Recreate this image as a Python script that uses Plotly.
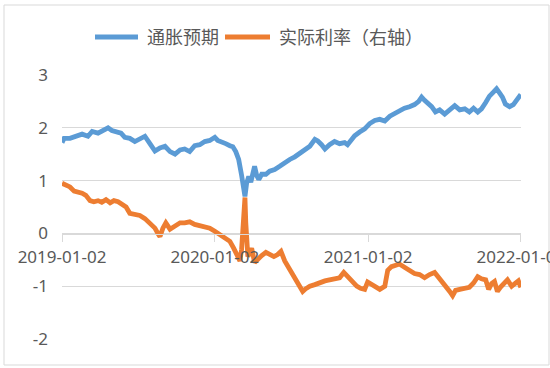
import pandas as pd
import plotly.graph_objects as go

START = "2019-01-02"

# day offsets from 2019-01-02 and values
blue_days = [0, 5, 19, 33, 48, 62, 72, 86, 100, 110, 119, 131, 141, 150, 162, 174, 186, 198, 210, 222,
             234, 246, 258, 270, 282, 293, 305, 317, 329, 341, 353, 365, 372, 382, 391, 401, 408, 415, 422, 429,
             434, 437, 441, 446, 451, 456, 460, 465, 470, 477, 487, 496, 508, 520, 532, 544, 556, 568, 580, 592,
             604, 611, 620, 628, 639, 651, 663, 675, 682, 692, 699, 711, 723, 735, 747, 759, 771, 783, 795, 806,
             818, 830, 842, 852, 859, 866, 873, 883, 892, 902, 914, 926, 938, 950, 962, 973, 983, 993, 1002, 1012,
             1021, 1031, 1038, 1045, 1052, 1059, 1069, 1078, 1088, 1096]
blue_vals = [1.72, 1.80, 1.80, 1.85, 1.88, 1.84, 1.93, 1.90, 1.95, 2.00, 1.95, 1.93, 1.90, 1.82, 1.80, 1.74, 1.78, 1.84, 1.70, 1.56,
             1.62, 1.65, 1.55, 1.50, 1.58, 1.60, 1.55, 1.66, 1.68, 1.74, 1.76, 1.82, 1.76, 1.74, 1.70, 1.66, 1.64, 1.55, 1.40, 1.10,
             0.85, 0.70, 0.95, 1.08, 0.97, 1.15, 1.27, 1.10, 1.02, 1.12, 1.12, 1.18, 1.21, 1.27, 1.34, 1.40, 1.45, 1.52, 1.59, 1.65,
             1.78, 1.75, 1.68, 1.60, 1.68, 1.74, 1.70, 1.72, 1.68, 1.80, 1.85, 1.92, 1.98, 2.08, 2.14, 2.16, 2.13, 2.22, 2.28, 2.32,
             2.37, 2.40, 2.44, 2.50, 2.58, 2.52, 2.48, 2.40, 2.30, 2.34, 2.26, 2.35, 2.42, 2.34, 2.36, 2.30, 2.37, 2.30, 2.36, 2.48,
             2.60, 2.68, 2.74, 2.66, 2.58, 2.45, 2.40, 2.44, 2.55, 2.63]

orange_days = [0, 10, 19, 29, 38, 48, 57, 67, 76, 86, 95, 105, 115, 124, 134, 143, 153, 162, 174, 186,
               198, 210, 222, 229, 234, 241, 248, 258, 270, 282, 293, 305, 317, 329, 341, 353, 365, 377, 389, 401,
               410, 418, 425, 429, 434, 437, 439, 444, 449, 453, 460, 468, 477, 487, 496, 506, 515, 523, 532, 544,
               556, 568, 575, 582, 592, 604, 616, 628, 639, 651, 663, 673, 682, 692, 704, 713, 723, 730, 740, 749,
               759, 771, 778, 787, 797, 806, 818, 830, 842, 854, 866, 878, 890, 902, 914, 926, 933, 940, 950, 962,
               973, 983, 993, 1002, 1012, 1019, 1026, 1033, 1040, 1047, 1057, 1064, 1074, 1083, 1090, 1096]
orange_vals = [0.95, 0.92, 0.88, 0.80, 0.79, 0.76, 0.72, 0.62, 0.60, 0.62, 0.59, 0.64, 0.58, 0.62, 0.60, 0.56, 0.50, 0.38, 0.36, 0.34,
               0.28, 0.20, 0.10, 0.00, -0.06, 0.10, 0.20, 0.08, 0.14, 0.20, 0.20, 0.22, 0.17, 0.15, 0.12, 0.10, 0.04, -0.02, -0.08, -0.15,
               -0.28, -0.40, -0.52, -0.30, 0.30, 0.68, 0.20, -0.44, -0.35, -0.28, -0.55, -0.48, -0.42, -0.36, -0.40, -0.44, -0.40, -0.34, -0.52, -0.68,
               -0.85, -0.98, -1.10, -1.05, -1.00, -0.97, -0.93, -0.90, -0.88, -0.86, -0.84, -0.74, -0.82, -0.90, -1.00, -1.04, -1.06, -0.92, -0.96, -1.02,
               -1.06, -1.00, -0.70, -0.63, -0.60, -0.58, -0.64, -0.70, -0.76, -0.78, -0.84, -0.78, -0.74, -0.86, -1.00, -1.10, -1.18, -1.08, -1.06, -1.04,
               -1.02, -0.94, -0.82, -0.86, -0.88, -1.06, -0.95, -0.91, -1.10, -1.02, -0.92, -0.88, -1.00, -0.94, -0.90, -1.02]

tick_dates = ["2019-01-02", "2020-01-02", "2021-01-02", "2022-01-02"]
y_ticks = [-2, -1, 0, 1, 2, 3]
y_tick_labels = ["-2", "-1", "0", "1", "2", "3"]
series_names = ["通胀预期", "实际利率（右轴）"]
series_colors = ["#5B9BD5", "#ED7D31"]

start = pd.Timestamp(START)
blue_x = start + pd.to_timedelta(blue_days, unit="D")
orange_x = start + pd.to_timedelta(orange_days, unit="D")

FONT = "Noto Sans, Noto Sans CJK SC, sans-serif"
GREY = "#595959"
GRID = "#d9d9d9"

# plot area geometry in pixels
L, R, T, B = 62, 521, 75, 339
W, H = R - L, B - T


def px_x(x):
    return (x - L) / W


def px_y(y):
    return (B - y) / H


fig = go.Figure()
fig.add_trace(go.Scatter(x=blue_x, y=blue_vals, mode="lines", name=series_names[0],
                         line=dict(color=series_colors[0], width=4.8), showlegend=False))
fig.add_trace(go.Scatter(x=orange_x, y=orange_vals, mode="lines", name=series_names[1],
                         line=dict(color=series_colors[1], width=4.8), yaxis="y2", showlegend=False))

# legend drawn manually (line samples + text)
legend_y = px_y(37)
shapes = [dict(type="rect", xref="paper", yref="paper",
               x0=px_x(4), x1=px_x(549), y0=px_y(365), y1=px_y(5),
               line=dict(color="#d9d9d9", width=1), fillcolor="rgba(0,0,0,0)", layer="below")]
annotations = []
for (x0, x1, tx), name, col in zip([(95, 138, 145), (225, 270, 277)], series_names, series_colors):
    shapes.append(dict(type="line", xref="paper", yref="paper", x0=px_x(x0), x1=px_x(x1),
                       y0=legend_y, y1=legend_y, line=dict(color=col, width=4.8)))
    annotations.append(dict(text=name, xref="paper", yref="paper", x=px_x(tx), y=legend_y,
                            xanchor="left", yanchor="middle", showarrow=False,
                            font=dict(size=18, color=GREY)))

fig.update_layout(
    width=550, height=368,
    margin=dict(l=L, r=550 - R, t=T, b=368 - B, autoexpand=False),
    paper_bgcolor="white", plot_bgcolor="white",
    font=dict(family=FONT, color=GREY, size=17),
    showlegend=False,
    xaxis=dict(type="date", range=[start, pd.Timestamp("2022-01-02 08:00")],
               tickvals=tick_dates, ticktext=tick_dates,
               anchor="free", position=px_y(234),
               showline=True, linecolor=GRID, linewidth=1,
               ticks="outside", ticklen=7, tickcolor=GRID,
               showgrid=False, zeroline=False, automargin=False,
               ticklabelstandoff=1, ticklabeloverflow="allow",
               tickfont=dict(size=17, color=GREY)),
    yaxis=dict(range=[-2, 3], tickvals=y_ticks, ticktext=y_tick_labels,
               showgrid=True, gridcolor=GRID, gridwidth=1,
               zeroline=False, showline=False, ticks="", automargin=False,
               ticklabelstandoff=13, tickfont=dict(size=17, color=GREY)),
    yaxis2=dict(range=[-2, 3], overlaying="y", side="right", visible=False),
    shapes=shapes,
    annotations=annotations,
)

fig.write_html("out.html", config={"displayModeBar": False},
               post_script="document.body.style.margin='0';")
